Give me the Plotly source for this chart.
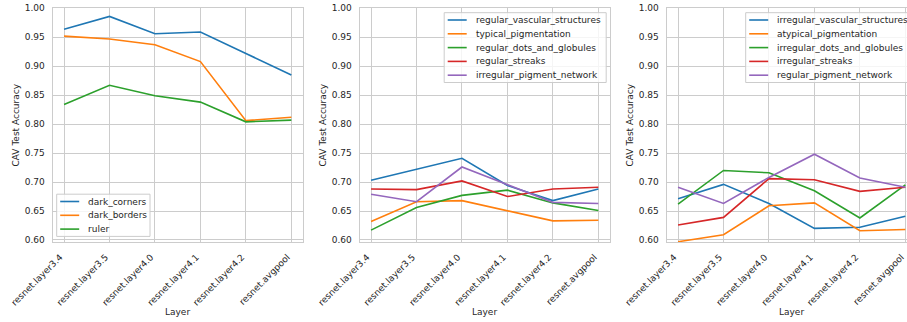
import plotly.graph_objects as go

# ---- data -------------------------------------------------------------
layers = ["resnet.layer3.4", "resnet.layer3.5", "resnet.layer4.0",
          "resnet.layer4.1", "resnet.layer4.2", "resnet.avgpool"]

# panel 1: artifact concepts
dark_corners = [0.964, 0.986, 0.956, 0.959, 0.922, 0.885]
dark_borders = [0.952, 0.947, 0.937, 0.908, 0.806, 0.812]
ruler = [0.834, 0.867, 0.849, 0.838, 0.804, 0.807]

# panel 2: benign-type concepts
regular_vascular_structures = [0.703, 0.722, 0.741, 0.694, 0.668, 0.688]
typical_pigmentation = [0.632, 0.666, 0.668, 0.651, 0.633, 0.634]
regular_dots_and_globules = [0.617, 0.656, 0.677, 0.686, 0.664, 0.651]
regular_streaks = [0.688, 0.687, 0.702, 0.675, 0.688, 0.691]
irregular_pigment_network = [0.679, 0.666, 0.726, 0.696, 0.665, 0.663]

# panel 3: malignant-type concepts
irregular_vascular_structures = [0.671, 0.696, 0.663, 0.620, 0.622, 0.641]
atypical_pigmentation = [0.597, 0.609, 0.659, 0.664, 0.616, 0.618]
irregular_dots_and_globules = [0.662, 0.720, 0.716, 0.685, 0.638, 0.695]
irregular_streaks = [0.626, 0.639, 0.706, 0.704, 0.684, 0.691]
regular_pigment_network = [0.691, 0.663, 0.708, 0.748, 0.707, 0.691]

y_ticks = [0.60, 0.65, 0.70, 0.75, 0.80, 0.85, 0.90, 0.95, 1.00]

panels = [
    [("dark_corners", dark_corners), ("dark_borders", dark_borders), ("ruler", ruler)],
    [("regular_vascular_structures", regular_vascular_structures),
     ("typical_pigmentation", typical_pigmentation),
     ("regular_dots_and_globules", regular_dots_and_globules),
     ("regular_streaks", regular_streaks),
     ("irregular_pigment_network", irregular_pigment_network)],
    [("irregular_vascular_structures", irregular_vascular_structures),
     ("atypical_pigmentation", atypical_pigmentation),
     ("irregular_dots_and_globules", irregular_dots_and_globules),
     ("irregular_streaks", irregular_streaks),
     ("regular_pigment_network", regular_pigment_network)],
]

# ---- style / geometry ---------------------------------------------------
W, H = 907, 322
palette = ["#1f77b4", "#ff7f0e", "#2ca02c", "#d62728", "#9467bd"]
FONT = "DejaVu Sans"
TXT = "#262626"
GRID = "#cccccc"
FS = 9

ax_left = [52.7, 359.7, 666.7]
ax_w = 250.0
ax_top, ax_bot = 8.3, 242.3
step = ax_w / 5.5

# legend placement per panel: (left offset from axes, right offset, first row y)
legend_geom = [(4.0, 97.3, 201.5), (84.5, ax_w - 3.5, 20.0), (79.0, ax_w - 3.5, 20.0)]


def px(x):
    return x / W


def py(y):
    return 1 - y / H


fig = go.Figure()
shapes, annotations = [], []

for i, series in enumerate(panels):
    sfx = "" if i == 0 else str(i + 1)
    for j, (name, vals) in enumerate(series):
        fig.add_trace(go.Scatter(
            x=layers, y=vals, mode="lines", name=name, showlegend=False,
            line=dict(color=palette[j], width=1.6),
            xaxis="x" + sfx, yaxis="y" + sfx,
        ))

    left = ax_left[i]
    right = min(left + ax_w, W)
    x_hi = -0.25 + (right - left) / step
    clipped = right < left + ax_w

    fig.update_layout(**{
        "xaxis" + sfx: dict(
            domain=[px(left), px(right)], range=[-0.25, x_hi],
            anchor="y" + sfx, type="category", automargin=False,
            showgrid=True, gridcolor=GRID, gridwidth=1,
            showline=True, linecolor=GRID, linewidth=1.25, mirror=True,
            tickangle=-45, ticks="", ticklabelstandoff=5, ticklabelshift=-4,
            tickfont=dict(family=FONT, size=FS, color=TXT), zeroline=False,
        ),
        "yaxis" + sfx: dict(
            domain=[py(ax_bot), py(ax_top)], range=[0.596, 1.0],
            anchor="x" + sfx, tickvals=y_ticks, tickformat=".2f",
            automargin=False,
            showgrid=True, gridcolor=GRID, gridwidth=1,
            showline=True, linecolor=GRID, linewidth=1.25, mirror=not clipped,
            ticks="", ticklabelstandoff=5,
            tickfont=dict(family=FONT, size=FS, color=TXT), zeroline=False,
        ),
    })

    # axis titles
    annotations.append(dict(
        text="Layer", x=px(left + ax_w / 2), y=py(312), xref="paper", yref="paper",
        showarrow=False, xanchor="center", yanchor="middle",
        font=dict(family=FONT, size=FS, color=TXT)))
    annotations.append(dict(
        text="CAV Test Accuracy", x=px(left - 36.5), y=py((ax_top + ax_bot) / 2),
        xref="paper", yref="paper", showarrow=False, textangle=-90,
        xanchor="center", yanchor="middle",
        font=dict(family=FONT, size=FS, color=TXT)))

    # legend box
    n = len(series)
    off_l, off_r, row0 = legend_geom[i]
    box_l, box_r = left + off_l, left + off_r
    row_h = 13.8
    box_t = row0 - 7.3
    box_b = row0 + (n - 1) * row_h + 7.3
    shapes.append(dict(
        type="rect", xref="paper", yref="paper",
        x0=px(box_l), x1=px(box_r), y0=py(box_b), y1=py(box_t),
        fillcolor="rgba(255,255,255,0.8)", line=dict(color=GRID, width=1),
        layer="above"))
    for j, (name, _) in enumerate(series):
        yy = row0 + j * row_h
        shapes.append(dict(
            type="line", xref="paper", yref="paper",
            x0=px(box_l + 3.5), x1=px(box_l + 22.5), y0=py(yy), y1=py(yy),
            line=dict(color=palette[j], width=1.6), layer="above"))
        annotations.append(dict(
            text=name, x=px(box_l + 29.5), y=py(yy), xref="paper", yref="paper",
            showarrow=False, xanchor="left", yanchor="middle",
            font=dict(family=FONT, size=FS, color=TXT)))

fig.update_layout(
    width=W, height=H, autosize=False,
    margin=dict(l=0, r=0, t=0, b=0),
    paper_bgcolor="white", plot_bgcolor="white",
    font=dict(family=FONT, size=FS, color=TXT),
    shapes=shapes, annotations=annotations,
)

fig.write_html("out.html")
